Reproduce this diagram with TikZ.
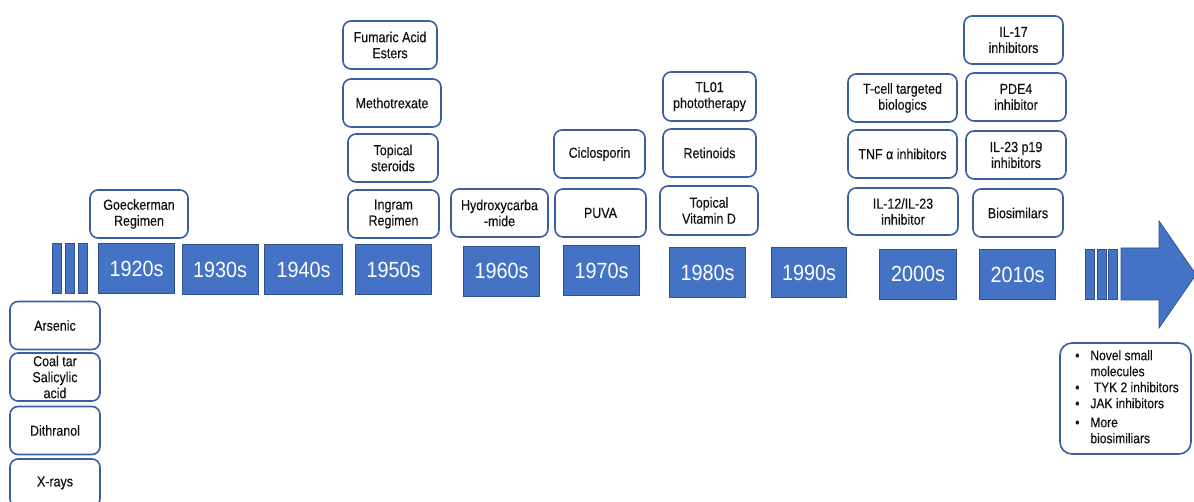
\documentclass[tikz,border=0pt]{standalone}
\usepackage{fontspec}
\setmainfont{Liberation Sans}
\newfontfamily\boxfont[FakeStretch=0.86,FakeBold=0.3]{Liberation Sans}
\newfontfamily\decfont[FakeStretch=0.9]{Liberation Sans}
\definecolor{decblue}{HTML}{4472C4}
\definecolor{decborder}{HTML}{2F528F}
\definecolor{boxborder}{HTML}{3A5F9E}
\definecolor{boxtext}{HTML}{111111}

\begin{document}
\begin{tikzpicture}[x=1pt,y=-1pt]

	% Styles
	\tikzstyle{decade} = [draw=decborder,fill=decblue,line width=0.8pt,text=white,
		minimum width=76,minimum height=50,inner sep=0pt,font=\decfont\fontsize{22}{24}\selectfont]
	\tikzstyle{bar} = [draw=decborder,fill=decblue,line width=0.8pt,minimum width=9,minimum height=50,inner sep=0pt]
	\tikzstyle{drug} = [draw=boxborder,fill=white,line width=1.6pt,rounded corners=8pt,
		minimum height=48,inner sep=1pt,align=center,text=boxtext,font=\boxfont\fontsize{14.5}{16}\selectfont]

	\useasboundingbox (0,0) rectangle (1194,502);
	\fill[white] (0,0) rectangle (1194,502);

	% Zeitachse
	\foreach \bx [count=\i] in {56.5,69.5,82.5}
		\node at (\bx,268) [bar] (lbar\i) {};
	\node at (136.5,268.5) [decade] (d1920) {1920s};
	\node at (220,269.5) [decade] (d1930) {1930s};
	\node at (303.5,269.5) [decade,minimum width=78] (d1940) {1940s};
	\node at (393.5,269.5) [decade] (d1950) {1950s};
	\node at (501.5,271) [decade] (d1960) {1960s};
	\node at (601.5,270.5) [decade] (d1970) {1970s};
	\node at (707.5,272.5) [decade] (d1980) {1980s};
	\node at (809,272.5) [decade,minimum width=75] (d1990) {1990s};
	\node at (918,274) [decade,minimum width=77] (d2000) {2000s};
	\node at (1017.5,274.5) [decade] (d2010) {2010s};
	\foreach \bx [count=\i] in {1089.5,1101.5,1113}
		\node at (\bx,274) [bar] (rbar\i) {};

	% Pfeil
	\filldraw[draw=decborder,fill=decblue,line width=0.8pt]
		(1121,248) -- (1159,248) -- (1159,221) -- (1196,274.5) -- (1159,328) -- (1159,300) -- (1121,300) -- cycle;

	% Vor 1920
	\node at (55,325.5) [drug,minimum width=90] (arsenic) {Arsenic};
	\node at (55,377) [drug,minimum width=90] (coaltar) {Coal tar\\Salicylic\\acid};
	\node at (55,430.5) [drug,minimum width=90] (dithranol) {Dithranol};
	\node at (55,483) [drug,minimum width=90] (xrays) {X-rays};

	% 1920s
	\node at (139,214) [drug,minimum width=98] (goeckerman) {Goeckerman\\Regimen};

	% 1950s
	\node at (390,45) [drug,minimum width=94] (fumaric) {Fumaric Acid\\Esters};
	\node at (392,103) [drug,minimum width=98] (mtx) {Methotrexate};
	\node at (393,158) [drug,minimum width=90] (steroids) {Topical\\steroids};
	\node at (393.5,214) [drug,minimum width=91] (ingram) {Ingram\\Regimen};

	% 1960s
	\node at (499.5,213) [drug,minimum width=97] (hydroxy) {Hydroxycarba\\-mide};

	% 1970s
	\node at (599.5,154) [drug,minimum width=91] (ciclo) {Ciclosporin};
	\node at (600.5,213) [drug,minimum width=91] (puva) {PUVA};

	% 1980s
	\node at (709.5,96.5) [drug,minimum width=93,minimum height=49] (tl01) {TL01\\phototherapy};
	\node at (709.5,153) [drug,minimum width=93] (retinoids) {Retinoids};
	\node at (709,210.5) [drug,minimum width=98,minimum height=49] (vitd) {Topical\\Vitamin D};

	% 2000s
	\node at (902.5,98) [drug,minimum width=109] (tcell) {T-cell targeted\\biologics};
	\node at (902.5,154) [drug,minimum width=109] (tnf) {TNF α inhibitors};
	\node at (903,211.5) [drug,minimum width=110,minimum height=47] (il12) {IL-12/IL-23\\inhibitor};

	% 2010s
	\node at (1013.5,40) [drug,minimum width=99] (il17) {IL-17\\inhibitors};
	\node at (1016,97) [drug,minimum width=100] (pde4) {PDE4\\inhibitor};
	\node at (1016,155) [drug,minimum width=100] (il23) {IL-23 p19\\inhibitors};
	\node at (1018,213) [drug,minimum width=90] (biosim) {Biosimilars};

	% Ausblick
	\node at (1125.5,398.5) [drug,minimum width=131,minimum height=111,rounded corners=12pt,
		align=left,font=\boxfont\fontsize{14}{16}\selectfont] (novel)
		{\hspace*{3pt}\begin{tabular}{@{}l@{\hspace{11pt}}l@{}}
			\textbullet & Novel small\\
			 & molecules\\
			\textbullet & \ TYK 2 inhibitors\\
			\textbullet & JAK inhibitors\\[3pt]
			\textbullet & More\\
			 & biosimiliars
		\end{tabular}};

\end{tikzpicture}
\end{document}
